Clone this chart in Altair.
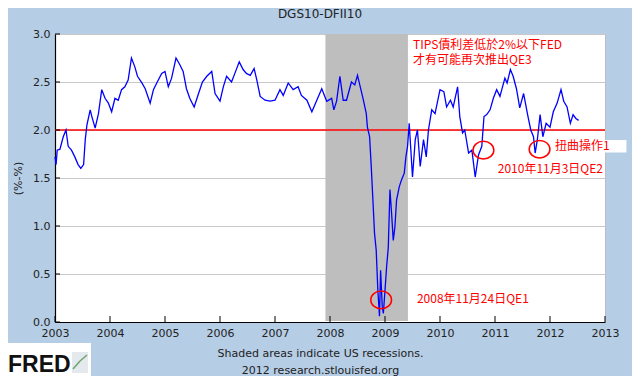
import altair as alt
import pandas as pd

# ---- DGS10-DFII10 series (decimal year, percent)
years = [
    2003.00, 2003.02, 2003.04, 2003.09, 2003.15, 2003.20, 2003.24, 2003.30, 2003.36, 2003.42,
    2003.47, 2003.52, 2003.55, 2003.58, 2003.64, 2003.67, 2003.73, 2003.79, 2003.85, 2003.91,
    2003.97, 2004.03, 2004.09, 2004.15, 2004.21, 2004.27, 2004.33, 2004.39, 2004.45, 2004.50,
    2004.58, 2004.64, 2004.73, 2004.79, 2004.85, 2004.94, 2005.00, 2005.06, 2005.12, 2005.20,
    2005.27, 2005.33, 2005.39, 2005.45, 2005.53, 2005.61, 2005.68, 2005.76, 2005.85, 2005.91,
    2006.00, 2006.06, 2006.12, 2006.21, 2006.27, 2006.35, 2006.42, 2006.48, 2006.55, 2006.62,
    2006.67, 2006.73, 2006.82, 2006.91, 2007.00, 2007.09, 2007.15, 2007.24, 2007.33, 2007.42,
    2007.48, 2007.58, 2007.67, 2007.76, 2007.85, 2007.94, 2008.03, 2008.07, 2008.12, 2008.18,
    2008.24, 2008.30, 2008.39, 2008.45, 2008.50, 2008.55, 2008.60, 2008.66, 2008.68, 2008.72,
    2008.75, 2008.78, 2008.81, 2008.84, 2008.87, 2008.90, 2008.92, 2008.95, 2008.97, 2009.00,
    2009.03, 2009.06, 2009.09, 2009.12, 2009.15, 2009.18, 2009.21, 2009.26, 2009.30, 2009.35,
    2009.38, 2009.41, 2009.44, 2009.47, 2009.50, 2009.55, 2009.59, 2009.64, 2009.70, 2009.75,
    2009.79, 2009.85, 2009.91, 2010.00, 2010.07, 2010.12, 2010.19, 2010.24, 2010.32, 2010.36,
    2010.41, 2010.45, 2010.52, 2010.58, 2010.64, 2010.70, 2010.76, 2010.80, 2010.85, 2010.91,
    2010.97, 2011.03, 2011.09, 2011.18, 2011.22, 2011.28, 2011.33, 2011.39, 2011.45, 2011.52,
    2011.60, 2011.65, 2011.70, 2011.73, 2011.77, 2011.82, 2011.87, 2011.93, 2012.00, 2012.06,
    2012.13, 2012.20, 2012.25, 2012.31, 2012.37, 2012.42, 2012.47, 2012.52,
]
values = [
    1.72, 1.64, 1.79, 1.80, 1.93, 2.00, 1.83, 1.79, 1.72, 1.64,
    1.60, 1.64, 1.90, 2.05, 2.21, 2.14, 2.02, 2.17, 2.42, 2.33,
    2.28, 2.19, 2.33, 2.31, 2.42, 2.45, 2.52, 2.75, 2.66, 2.56,
    2.49, 2.43, 2.28, 2.42, 2.49, 2.59, 2.61, 2.45, 2.54, 2.75,
    2.68, 2.61, 2.43, 2.33, 2.24, 2.38, 2.50, 2.56, 2.61, 2.38,
    2.30, 2.45, 2.56, 2.50, 2.59, 2.71, 2.63, 2.59, 2.57, 2.64,
    2.52, 2.35, 2.31, 2.30, 2.31, 2.42, 2.36, 2.49, 2.42, 2.45,
    2.36, 2.31, 2.19, 2.31, 2.43, 2.30, 2.33, 2.21, 2.30, 2.56,
    2.31, 2.31, 2.50, 2.47, 2.57, 2.45, 2.33, 2.17, 2.03, 1.93,
    1.62, 1.27, 0.92, 0.75, 0.33, 0.06, 0.54, 0.16, 0.09, 0.33,
    0.58, 0.78, 1.38, 1.13, 0.85, 0.99, 1.27, 1.41, 1.48, 1.55,
    1.72, 1.83, 2.07, 1.79, 1.51, 1.90, 2.00, 1.62, 1.90, 1.72,
    2.00, 2.21, 2.17, 2.42, 2.40, 2.24, 2.31, 2.24, 2.45, 2.14,
    1.97, 2.00, 1.76, 1.79, 1.51, 1.74, 1.83, 2.14, 2.16, 2.21,
    2.33, 2.42, 2.35, 2.54, 2.49, 2.63, 2.56, 2.43, 2.23, 2.38,
    2.14, 2.00, 1.93, 1.76, 1.90, 2.16, 1.93, 2.07, 2.03, 2.19,
    2.28, 2.42, 2.30, 2.24, 2.07, 2.16, 2.12, 2.10,
]

# recession (shaded)
rec_start = [2007.917]
rec_end = [2009.417]

# red reference level
ref_level = [2.0]

# axis ticks
x_ticks = list(range(2003, 2014))
y_ticks = [0.0, 0.5, 1.0, 1.5, 2.0, 2.5, 3.0]

# annotations
note_text = ["TIPS債利差低於2%以下FED", "才有可能再次推出QE3", "扭曲操作1",
             "2010年11月3日QE2", "2008年11月24日QE1"]
note_x = [2009.51, 2009.51, 2012.09, 2011.05, 2009.58]
note_y = [2.885, 2.725, 1.83, 1.59, 0.24]

circle_x = [2008.93, 2010.79, 2011.81]
circle_y = [0.23, 1.79, 1.80]

box_x = [2012.03]
box_x2 = [2013.39]
box_y = [1.895]
box_y2 = [1.765]

chart_title = "DGS10-DFII10"
y_title = "(%-%)"
footer = ["Shaded areas indicate US recessions.", "2012 research.stlouisfed.org"]
logo = ["FRED"]

# ---- tables
series = pd.DataFrame({"year": years, "value": values})
rec = pd.DataFrame({"start": rec_start, "end": rec_end})
ref = pd.DataFrame({"level": ref_level})
xt = pd.DataFrame({"tick": x_ticks})
yt = pd.DataFrame({"tick": y_ticks})
notes = pd.DataFrame({"text": note_text, "x": note_x, "y": note_y})
circles = pd.DataFrame({"x": circle_x, "y": circle_y})
box = pd.DataFrame({"x": box_x, "x2": box_x2, "y": box_y, "y2": box_y2})
logo_df = pd.DataFrame({"t": logo})

W, H = 550, 288
FONT = "DejaVu Sans"
CJK = "Noto Sans CJK TC"

xscale = alt.Scale(domain=[2003, 2013], nice=False, zero=False)
yscale = alt.Scale(domain=[0, 3], nice=False, zero=True)

xaxis = alt.Axis(values=x_ticks, format="d", grid=False, ticks=False, tickSize=0,
                 labelPadding=5, labelFlush=False, labelOverlap=False,
                 labelFont=FONT, labelFontSize=11, labelColor="#222222",
                 domainColor="#000000", domainWidth=1.2,
                 title=footer, titleX=265, titleY=25, titleAlign="center",
                 titleBaseline="top", titleLineHeight=17, titleFont=FONT,
                 titleFontSize=11, titleFontWeight="normal", titleColor="#222222")
yaxis = alt.Axis(values=y_ticks, format=".1f", grid=True, gridColor="#C8C8C8",
                 gridWidth=1, ticks=False, tickSize=0, labelPadding=5,
                 labelFlush=False, labelOverlap=False,
                 labelFont=FONT, labelFontSize=11, labelColor="#222222",
                 domainColor="#000000", domainWidth=1.2,
                 title=y_title, titleX=-37, titleY=144, titleAlign="center",
                 titleBaseline="middle", titleFont=FONT, titleFontSize=11,
                 titleFontWeight="normal", titleColor="#222222")


def X(field):
    return alt.X(field, type="quantitative", scale=xscale, axis=xaxis)


def Y(field):
    return alt.Y(field, type="quantitative", scale=yscale, axis=yaxis)


recession = alt.Chart(rec).mark_rect(color="#BEBEBE").encode(
    x=X("start"), x2="end", y=alt.value(0), y2=alt.value(H - 1)
)

red_rule = alt.Chart(ref).mark_rule(color="#FF0000", strokeWidth=1.6).encode(y=Y("level"))

line = alt.Chart(series).mark_line(color="#0000FF", strokeWidth=1.3).encode(
    x=X("year"), y=Y("value")
)

ytick_marks = alt.Chart(yt).mark_rule(color="#000000", strokeWidth=1).encode(
    y=Y("tick"), x=alt.value(0), x2=alt.value(5)
)
xtick_marks = alt.Chart(xt).mark_rule(color="#000000", strokeWidth=1).encode(
    x=X("tick"), y=alt.value(H), y2=alt.value(H - 6)
)

ellipse = "M-1,0A1,0.85,0,1,1,1,0A1,0.85,0,1,1,-1,0Z"
rings = alt.Chart(circles).mark_point(
    shape=ellipse, size=430, filled=False, color="#FF0000", strokeWidth=1.5, opacity=1
).encode(x=X("x"), y=Y("y"))

white_box = alt.Chart(box).mark_rect(color="#FFFFFF").encode(
    x=X("x"), x2="x2", y=Y("y"), y2="y2"
)

texts = alt.Chart(notes).mark_text(
    align="left", baseline="middle", font=CJK, fontSize=12, color="#FF0000"
).encode(x=X("x"), y=Y("y"), text="text:N")

# FRED logo (bottom left, outside plot)
logo_box = alt.Chart(logo_df).mark_rect(color="#FFFFFF").encode(
    x=alt.value(-50), x2=alt.value(36), y=alt.value(309), y2=alt.value(342)
)
logo_text = alt.Chart(logo_df).mark_text(
    align="left", baseline="alphabetic", font="Liberation Sans", fontSize=23,
    fontWeight="bold", color="#111111"
).encode(x=alt.value(-47), y=alt.value(338), text="t:N")
icon_bg = alt.Chart(logo_df).mark_rect(color="#E4E9EE").encode(
    x=alt.value(17), x2=alt.value(33), y=alt.value(318), y2=alt.value(339)
)
icon_l1 = alt.Chart(logo_df).mark_rule(color="#6FA36F", strokeWidth=1.5).encode(
    x=alt.value(18), y=alt.value(335), x2=alt.value(25), y2=alt.value(327)
)
icon_l2 = alt.Chart(logo_df).mark_rule(color="#6FA36F", strokeWidth=1.5).encode(
    x=alt.value(25), y=alt.value(327), x2=alt.value(32), y2=alt.value(321)
)

chart = alt.layer(
    recession, red_rule, line, ytick_marks, xtick_marks, rings, white_box, texts,
    logo_box, icon_bg, icon_l1, icon_l2, logo_text
).properties(
    width=W,
    height=H,
    autosize=alt.AutoSizeParams(type="none"),
    padding={"left": 47, "top": 26, "right": 27, "bottom": 54},
    background="#B5CDE5",
    title=alt.TitleParams(chart_title, font=FONT, fontSize=12, fontWeight="normal",
                          color="#222222", anchor="middle", frame="group", dx=-10,
                          offset=7),
).configure_view(
    fill="#FFFFFF", stroke="#BDBDBD", strokeWidth=1
)

chart.save("out.html", embed_options={"renderer": "svg", "actions": False})
